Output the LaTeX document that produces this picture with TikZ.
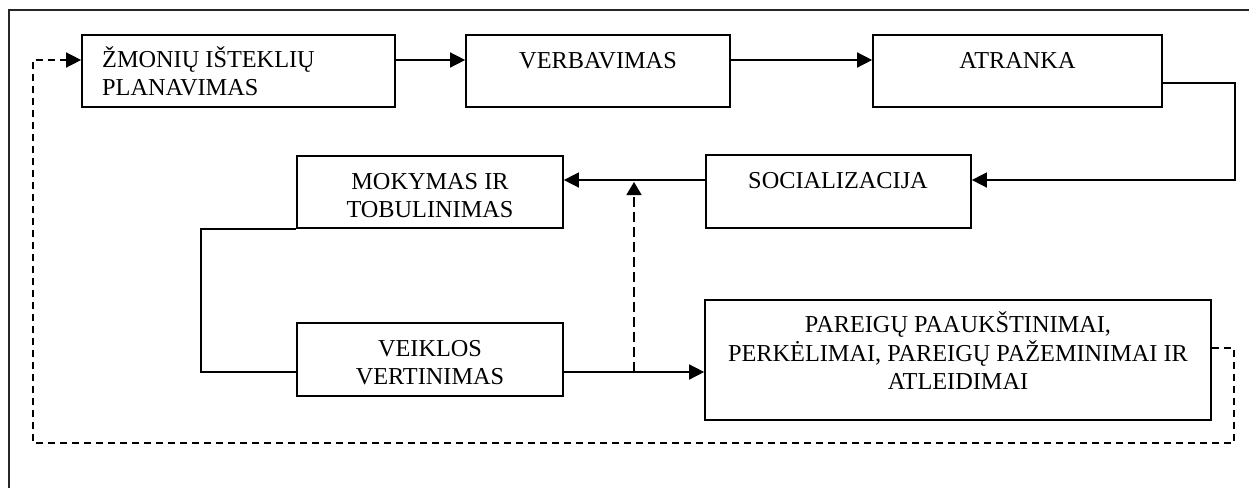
\documentclass[tikz,border=0pt]{standalone}
\usepackage{fontspec}
\setmainfont{Liberation Serif}
\usetikzlibrary{arrows.meta}
\begin{document}
\begin{tikzpicture}[x=1pt,y=-1pt,
  stage/.style={draw,line width=1.7pt,rectangle,inner sep=0pt,minimum height=#1},
  stage/.default=72pt,
  label/.style={inner sep=0pt,anchor=base,font=\fontsize{24.3}{28.5}\selectfont},
  tip/.style={-{Triangle[length=15pt,width=15pt]}},
  flow/.style={line width=1.5pt,tip},
  link/.style={line width=1.5pt},
  back/.style={line width=1.5pt,dash pattern=on 7pt off 5pt},
  check/.style={line width=1.5pt,dash pattern=on 10pt off 5pt,-{Triangle[length=13pt,width=15pt]}},
  frame/.style={line width=1.4pt,black!85}]
\useasboundingbox (0,0) rectangle (1249,488);

% open frame
\draw[frame] (9,488) -- (9,10) -- (1249,10);

% stages
\node[stage,minimum width=313pt] (plan) at (238.5,71) {};
\node[stage,minimum width=264pt] (verb) at (598,71) {};
\node[stage,minimum width=289pt] (atr)  at (1017.5,71) {};
\node[stage=73pt,minimum width=265pt] (soc) at (838.5,191.5) {};
\node[stage,minimum width=266pt] (mok) at (430,192) {};
\node[stage=73pt,minimum width=266pt] (veik) at (430,359.5) {};
\node[stage=120pt,minimum width=506pt] (par) at (958,360) {};

% stage captions
\node[label,anchor=base west] (plan-t) at (102,67)
  {\begin{tabular}[t]{@{}l@{}}ŽMONIŲ IŠTEKLIŲ\\PLANAVIMAS\end{tabular}};
\node[label] (verb-t) at (598,68) {VERBAVIMAS};
\node[label] (atr-t) at (1017.5,68) {ATRANKA};
\node[label] (soc-t) at (838,188) {SOCIALIZACIJA};
\node[label] (mok-t) at (430,189)
  {\begin{tabular}[t]{@{}c@{}}MOKYMAS IR\\TOBULINIMAS\end{tabular}};
\node[label] (veik-t) at (430,356)
  {\begin{tabular}[t]{@{}c@{}}VEIKLOS\\VERTINIMAS\end{tabular}};
\node[label] (par-t) at (958,332)
  {\begin{tabular}[t]{@{}c@{}}PAREIGŲ PAAUKŠTINIMAI,\\PERKĖLIMAI, PAREIGŲ PAŽEMINIMAI IR\\ATLEIDIMAI\end{tabular}};

% main flow
\draw[flow] ([yshift=11pt]plan.east) -- ([yshift=11pt]verb.west);
\draw[flow] ([yshift=11pt]verb.east) -- ([yshift=11pt]atr.west);
\draw[flow] ([yshift=-12pt]atr.east) -- ++(72,0) |- ([yshift=11.5pt]soc.east);
\draw[flow] ([yshift=11.5pt]soc.west) -- ([yshift=12pt]mok.east);
\draw[link] (mok.south west) -- ++(-95,0) |- ([yshift=-12.5pt]veik.west);
\draw[flow] ([yshift=-12.5pt]veik.east) -- ([yshift=-12pt]par.west);

% evaluation feeds back into training
\coordinate (j) at (634,372);
\coordinate (jt) at (634,182);
\draw[check] (j) -- (jt);

% return to planning
\coordinate (r1) at (1234,443);
\coordinate (r2) at (33,443);
\coordinate (r3) at (33,60);
\draw[back] ([yshift=12pt]par.east) -| (r1) -- (r2) -- (r3) -- ++(36,0);
\draw[line width=1.5pt,tip] ([yshift=11pt,xshift=-14pt]plan.west) -- ([yshift=11pt]plan.west);
\end{tikzpicture}
\end{document}
